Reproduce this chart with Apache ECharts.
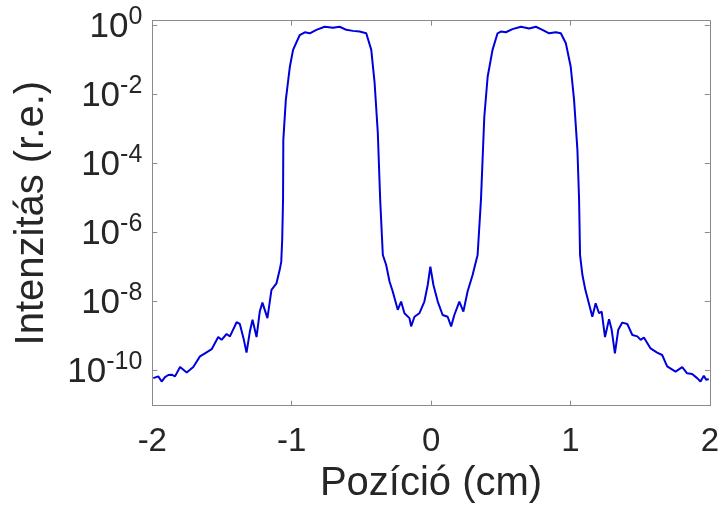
<!DOCTYPE html>
<html>
<head>
<meta charset="utf-8">
<script src="https://cdn.jsdelivr.net/npm/echarts@6/dist/echarts.min.js"></script>
<style>
html,body{margin:0;padding:0;background:#fff;}
#chart{width:722px;height:510px;}
</style>
</head>
<body>
<div id="chart"></div>
<script>
// Position (cm)
const posX = [
-1.993,-1.957,-1.933,-1.909,-1.885,-1.861,-1.837,-1.801,-1.753,-1.706,
-1.658,-1.622,-1.574,-1.527,-1.503,-1.467,-1.443,-1.395,-1.372,-1.343,
-1.324,-1.300,-1.281,-1.252,-1.229,-1.210,-1.193,-1.174,-1.145,-1.134,
-1.109,-1.086,-1.075,-1.068,-1.062,-1.060,-1.042,-1.013,-0.990,-0.942,
-0.906,-0.870,-0.823,-0.763,-0.704,-0.656,-0.608,-0.561,-0.513,-0.465,
-0.429,-0.405,-0.382,-0.365,-0.346,-0.322,-0.298,-0.275,-0.239,-0.215,
-0.191,-0.155,-0.143,-0.119,-0.084,-0.048,-0.024,-0.005,0.017,0.048,
0.083,0.119,0.144,0.167,0.203,0.232,0.262,0.298,0.322,0.334,
0.358,0.382,0.406,0.441,0.477,0.501,0.537,0.584,0.645,0.704,
0.752,0.799,0.847,0.895,0.931,0.967,1.002,1.026,1.050,1.062,
1.069,1.086,1.107,1.121,1.157,1.181,1.205,1.224,1.248,1.277,
1.296,1.319,1.343,1.372,1.408,1.444,1.480,1.504,1.527,1.575,
1.622,1.658,1.694,1.754,1.802,1.837,1.873,1.909,1.933,1.957,
1.974,1.993
];
// log10 of intensity (r.e.)
const logIntensity = [
-10.24,-10.19,-10.34,-10.21,-10.15,-10.14,-10.19,-9.92,-10.08,-9.92,
-9.61,-9.52,-9.40,-9.05,-9.13,-8.96,-9.03,-8.62,-8.67,-9.13,
-9.50,-8.89,-8.55,-9.05,-8.31,-8.05,-8.26,-8.50,-7.68,-7.73,
-7.49,-7.10,-6.87,-6.23,-5.07,-3.33,-2.17,-1.21,-0.72,-0.29,
-0.21,-0.24,-0.14,-0.05,-0.08,-0.05,-0.14,-0.17,-0.19,-0.24,
-0.72,-1.68,-3.13,-5.07,-6.67,-6.96,-7.44,-7.73,-8.26,-8.02,
-8.36,-8.50,-8.74,-8.46,-8.36,-8.02,-7.54,-7.01,-7.54,-8.02,
-8.41,-8.46,-8.74,-8.41,-8.02,-8.31,-7.73,-7.25,-6.86,-6.67,
-5.07,-2.66,-1.50,-0.72,-0.24,-0.19,-0.21,-0.12,-0.05,-0.10,
-0.05,-0.14,-0.24,-0.21,-0.24,-0.53,-1.21,-2.17,-3.62,-5.07,
-6.67,-7.25,-7.68,-7.63,-8.46,-8.07,-8.36,-8.31,-9.05,-8.53,
-8.84,-9.52,-8.84,-8.63,-8.67,-8.99,-9.03,-9.13,-9.06,-9.38,
-9.50,-9.57,-9.90,-10.05,-9.92,-10.10,-10.12,-10.24,-10.34,-10.17,
-10.29,-10.27
];
// y tick exponents (10^n)
const yTickExp = [-10, -8, -6, -4, -2, 0];
const xTickInterval = 1;

const FONT = 'Liberation Sans, Arial, Helvetica, sans-serif';
const AXIS_COLOR = '#8a8a8a';
const TEXT_COLOR = '#262626';

const seriesData = posX.map((x, i) => [x, logIntensity[i]]);

const chart = echarts.init(document.getElementById('chart'), null, {renderer: 'canvas'});
const axisLine = {show: true, onZero: false, lineStyle: {color: AXIS_COLOR, width: 1}};
const tick = {show: true, inside: true, length: 5, lineStyle: {color: AXIS_COLOR, width: 1}};

chart.setOption({
  animation: false,
  backgroundColor: '#ffffff',
  grid: {left: 152.3, right: 11, top: 20.7, bottom: 104.3, containLabel: false},
  xAxis: [{
    type: 'value', min: -2, max: 2, interval: xTickInterval, position: 'bottom',
    axisLine: axisLine, axisTick: tick,
    axisLabel: {color: TEXT_COLOR, fontSize: 33, fontFamily: FONT, margin: 20},
    splitLine: {show: false},
    name: 'Pozíció (cm)', nameLocation: 'middle', nameGap: 51,
    nameTextStyle: {fontSize: 40, color: TEXT_COLOR, fontFamily: FONT}
  }, {
    type: 'value', min: -2, max: 2, interval: xTickInterval, position: 'top',
    axisLine: axisLine, axisTick: tick, axisLabel: {show: false}, splitLine: {show: false}
  }],
  yAxis: [{
    type: 'value', min: -11.04, max: 0.125, position: 'left',
    axisLine: axisLine,
    axisTick: Object.assign({}, tick, {customValues: yTickExp}),
    axisLabel: {
      customValues: yTickExp, margin: 10, color: TEXT_COLOR, fontFamily: FONT,
      formatter: v => '{z| }{b|10}{s|' + v + '}',
      rich: {
        z: {fontSize: 1, lineHeight: 40},
        b: {fontSize: 35, lineHeight: 20, verticalAlign: 'bottom', color: TEXT_COLOR, fontFamily: FONT},
        s: {fontSize: 25, lineHeight: 28, verticalAlign: 'top', color: TEXT_COLOR, fontFamily: FONT}
      }
    },
    splitLine: {show: false},
    name: 'Intenzitás (r.e.)', nameLocation: 'middle', nameGap: 100,
    nameTextStyle: {fontSize: 40, color: TEXT_COLOR, fontFamily: FONT}
  }, {
    type: 'value', min: -11.04, max: 0.125, position: 'right',
    axisLine: axisLine,
    axisTick: Object.assign({}, tick, {customValues: yTickExp}),
    axisLabel: {show: false}, splitLine: {show: false}
  }],
  series: [{
    type: 'line', xAxisIndex: 0, yAxisIndex: 0,
    data: seriesData, showSymbol: false, smooth: false,
    lineStyle: {color: '#0000dd', width: 2}
  }]
});
</script>
</body>
</html>
